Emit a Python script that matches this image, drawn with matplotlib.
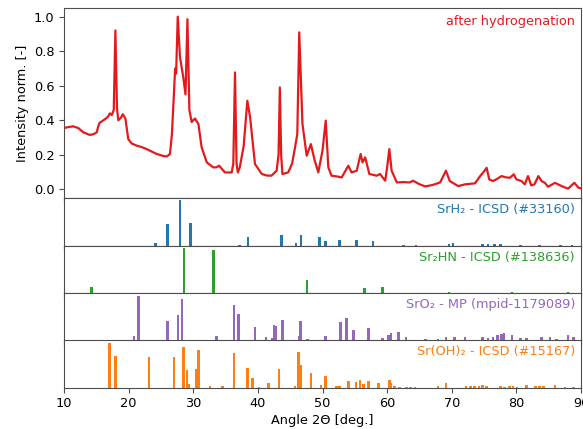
import matplotlib
matplotlib.use("Agg")
import matplotlib.pyplot as plt

# measured pattern (after hydrogenation)
angle = [10.0, 10.6, 11.4, 12.2, 13.0, 14.0, 14.6, 15.06, 15.3, 15.5, 16.3, 16.8, 17.1, 17.4, 17.7, 17.95, 18.2, 18.4,
         18.8, 19.1, 19.5, 19.95, 20.5, 21.25, 22.0, 22.8, 23.5, 24.35, 25.2, 25.9, 26.4, 26.7, 26.9, 27.2, 27.35,
         27.6, 27.95, 28.45, 28.8, 29.1, 29.4, 29.75, 30.27, 30.8, 31.3, 32.1, 33.1, 33.6, 34.0, 34.9, 35.95, 36.2,
         36.46, 36.7, 36.9, 37.2, 37.8, 38.37, 38.8, 39.55, 40.6, 41.4, 42.1, 42.9, 43.2, 43.4, 43.6, 43.8, 44.7,
         45.3, 45.75, 46.1, 46.4, 46.9, 47.55, 48.2, 48.8, 49.35, 50.0, 50.5, 50.9, 51.4, 52.2, 52.97, 54.0, 54.5,
         55.3, 55.9, 56.2, 56.6, 57.25, 58.4, 58.9, 59.7, 60.0, 60.34, 60.7, 61.5, 62.5, 63.5, 64.0, 65.0, 65.9,
         67.0, 68.2, 69.1, 69.7, 71.0, 72.05, 73.6, 74.4, 75.04, 75.4, 75.8, 76.4, 77.0, 77.7, 78.3, 79.0, 79.6,
         80.0, 80.8, 81.3, 81.8, 82.3, 82.8, 83.4, 83.9, 84.4, 84.9, 85.98, 87.0, 88.0, 88.97, 89.6, 90.0]
intensity = [0.355, 0.36, 0.365, 0.355, 0.33, 0.315, 0.32, 0.33, 0.365, 0.385, 0.405, 0.42, 0.44, 0.43, 0.46, 0.92,
             0.47, 0.40, 0.415, 0.435, 0.41, 0.29, 0.265, 0.253, 0.245, 0.233, 0.22, 0.205, 0.195, 0.19, 0.205, 0.32,
             0.475, 0.70, 0.67, 1.0, 0.765, 0.65, 0.55, 0.985, 0.46, 0.39, 0.41, 0.378, 0.243, 0.156, 0.127, 0.128,
             0.137, 0.098, 0.098, 0.15, 0.677, 0.15, 0.098, 0.127, 0.25, 0.513, 0.417, 0.147, 0.089, 0.08, 0.079,
             0.108, 0.2, 0.59, 0.2, 0.089, 0.098, 0.15, 0.243, 0.32, 0.909, 0.378, 0.195, 0.262, 0.166, 0.098,
             0.224, 0.398, 0.127, 0.079, 0.075, 0.069, 0.137, 0.098, 0.108, 0.205, 0.156, 0.185, 0.089, 0.079, 0.089,
             0.05, 0.127, 0.233, 0.108, 0.04, 0.042, 0.04, 0.05, 0.03, 0.017, 0.025, 0.04, 0.108, 0.048, 0.019,
             0.029, 0.035, 0.077, 0.106, 0.125, 0.058, 0.048, 0.06, 0.077, 0.07, 0.067, 0.087, 0.058, 0.048, 0.029,
             0.077, 0.023, 0.029, 0.077, 0.048, 0.038, 0.015, 0.038, 0.019, 0.004, 0.038, 0.01, 0.005]

# reference stick patterns
srh2_pos = [24.2, 26.0, 27.95, 29.55, 37.2, 38.5, 43.7, 45.9, 46.7, 49.5, 50.5, 52.6, 55.3, 57.8, 62.5, 64.5,
            69.6, 70.2, 74.8, 75.6, 76.6, 77.5, 80.6, 83.6, 86.8, 88.6]
srh2_val = [0.06, 0.48, 1.0, 0.50, 0.02, 0.18, 0.24, 0.06, 0.24, 0.18, 0.11, 0.13, 0.13, 0.11, 0.02, 0.02,
            0.04, 0.05, 0.03, 0.03, 0.03, 0.03, 0.02, 0.02, 0.02, 0.02]
sr2hn_pos = [14.28, 28.6, 33.17, 43.5, 47.6, 56.5, 59.3, 69.6, 79.3, 88.0]
sr2hn_val = [0.13, 1.0, 0.96, 0.01, 0.28, 0.12, 0.14, 0.03, 0.02, 0.02]
sro2_pos = [20.83, 21.55, 26.04, 27.64, 28.26, 33.6, 36.3, 36.97, 39.55, 41.26, 42.2, 42.5, 42.7, 43.8, 46.36,
            46.6, 47.65, 50.5, 52.8, 53.75, 54.8, 57.1, 59.3, 60.2, 60.6, 61.75, 62.9, 65.9, 67.9, 69.1, 70.4,
            72.05, 74.8, 75.6, 76.4, 77.1, 77.7, 78.1, 79.3, 80.6, 81.6, 83.9, 85.2, 86.2, 88.0, 88.8]
sro2_val = [0.11, 0.99, 0.44, 0.555, 0.92, 0.11, 0.78, 0.59, 0.30, 0.07, 0.06, 0.35, 0.32, 0.46, 0.11,
            0.44, 0.03, 0.11, 0.40, 0.50, 0.24, 0.27, 0.05, 0.12, 0.16, 0.18, 0.07, 0.03, 0.04, 0.07, 0.07,
            0.07, 0.07, 0.05, 0.07, 0.12, 0.15, 0.16, 0.12, 0.05, 0.05, 0.07, 0.07, 0.04, 0.13, 0.07]
sroh2_pos = [17.0, 18.0, 23.15, 27.0, 28.5, 29.03, 29.3, 30.4, 30.8, 32.6, 34.5, 36.3, 38.37, 39.2, 40.2,
             41.6, 43.27, 45.75, 46.27, 46.6, 48.2, 49.8, 50.45, 52.2, 52.6, 54.0, 55.2, 55.8, 56.3, 57.1,
             58.65, 60.35, 60.6, 61.1, 61.9, 63.0, 63.6, 64.3, 67.9, 69.1, 72.2, 72.9, 73.5, 74.2, 74.8,
             75.4, 77.5, 78.2, 78.9, 79.5, 80.1, 81.6, 83.0, 83.6, 84.2, 86.0, 87.5, 88.8]
sroh2_val = [0.99, 0.71, 0.68, 0.68, 0.90, 0.39, 0.08, 0.42, 0.83, 0.05, 0.05, 0.77, 0.44, 0.215, 0.02,
             0.10, 0.41, 0.05, 0.79, 0.51, 0.34, 0.06, 0.26, 0.05, 0.04, 0.16, 0.14, 0.18, 0.08, 0.15,
             0.10, 0.17, 0.10, 0.05, 0.03, 0.02, 0.03, 0.02, 0.04, 0.10, 0.04, 0.05, 0.04, 0.05, 0.06,
             0.04, 0.04, 0.03, 0.05, 0.04, 0.03, 0.06, 0.04, 0.04, 0.04, 0.06, 0.03, 0.03]

refs = [
    (srh2_pos, srh2_val, "#1f77b4", "SrH\u2082 - ICSD (#33160)"),
    (sr2hn_pos, sr2hn_val, "#2ca02c", "Sr\u2082HN - ICSD (#138636)"),
    (sro2_pos, sro2_val, "#9467bd", "SrO\u2082 - MP (mpid-1179089)"),
    (sroh2_pos, sroh2_val, "#ff7f0e", "Sr(OH)\u2082 - ICSD (#15167)"),
]

plt.rcParams['font.family'] = ['DejaVu Sans']
plt.rcParams['font.size'] = 9.3
plt.rcParams['axes.edgecolor'] = '0.3'
plt.rcParams['xtick.color'] = '0.3'
plt.rcParams['ytick.color'] = '0.3'
plt.rcParams['xtick.labelcolor'] = 'black'
plt.rcParams['ytick.labelcolor'] = 'black'
plt.rcParams['xtick.major.pad'] = 3.0
plt.rcParams['axes.labelpad'] = 3.0

fig = plt.figure(figsize=(5.83, 4.29), dpi=100)
gs = fig.add_gridspec(5, 1, height_ratios=[4, 1, 1, 1, 1], hspace=0,
                      left=64/583, right=581/583, top=1-8/429, bottom=1-388/429)
ax0 = fig.add_subplot(gs[0])
ax0.plot(angle, intensity, color="#e31a1c", lw=1.6)
ax0.set_xlim(10, 90)
ax0.set_ylim(-0.05, 1.05)
ax0.set_yticks([0.0, 0.2, 0.4, 0.6, 0.8, 1.0])
ax0.set_ylabel("Intensity norm. [-]")
ax0.tick_params(labelbottom=False)
ax0.annotate("after hydrogenation", xy=(1, 1), xycoords='axes fraction',
             xytext=(-6, -7), textcoords='offset pixels', ha='right', va='top', color="#e31a1c")

axes = []
for i, (pos, val, col, lab) in enumerate(refs):
    ax = fig.add_subplot(gs[i + 1], sharex=ax0)
    ax.bar(pos, val, width=0.4, color=col)
    ax.set_ylim(0, 1.05)
    ax.set_yticks([])
    ax.annotate(lab, xy=(1, 1), xycoords='axes fraction',
                xytext=(-6, -5), textcoords='offset pixels', ha='right', va='top', color=col)
    if i < 3:
        ax.tick_params(labelbottom=False)
    axes.append(ax)

axes[-1].set_xticks([10, 20, 30, 40, 50, 60, 70, 80, 90])
axes[-1].set_xlabel("Angle 2\u0398 [deg.]")
ax0.set_xlim(10, 90)

fig.savefig("out.png", dpi=100)
